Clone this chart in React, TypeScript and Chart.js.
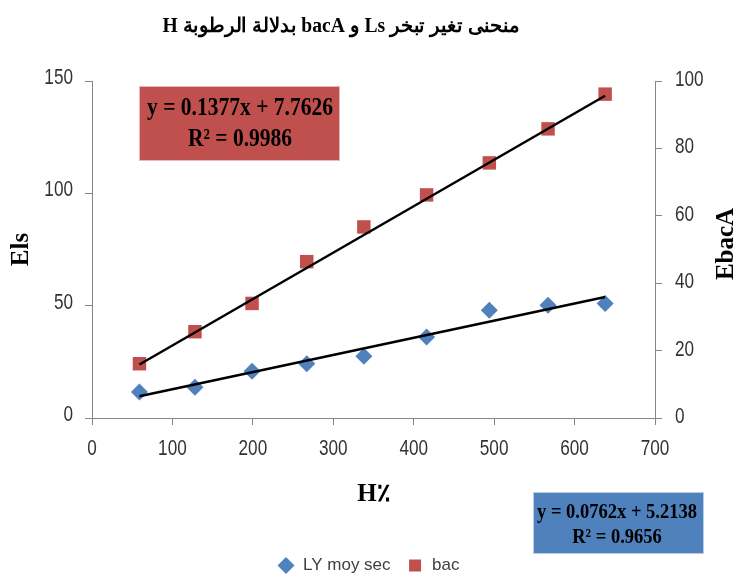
import React, { useEffect, useRef } from 'react';
import { Chart, registerables } from 'chart.js';

Chart.register(...registerables);

// ---- data ----
const humidity = [59, 128, 199, 267, 338, 416, 494, 567, 638];
const lyMoySec = [11.6, 13.7, 20.8, 24.1, 27.5, 36.0, 48.0, 50.2, 51.0];
const bacValues = [16.1, 25.6, 34.0, 46.4, 56.7, 66.2, 75.7, 85.8, 96.1];

const lyTrend = { slope: 0.0762, intercept: 5.2138, r2: '0.9656' };
const bacTrend = { slope: 0.1377, intercept: 7.7626, r2: '0.9986' };

const xRange = { min: 0, max: 700, step: 100 };
const yLeftRange = { min: 0, max: 150, step: 50 };
const yRightRange = { min: 0, max: 100, step: 20 };

const seriesNames = ['LY moy sec', 'bac'];
const chartTitle = 'منحنى تغير تبخر Ls و bacA بدلالة الرطوبة H';
const xTitle = 'H٪';
const yLeftTitle = 'Els';
const yRightTitle = 'EbacA';

const BLUE = '#4F81BD';
const RED = '#C0504D';
const AXIS = '#868686';
const TICK_TXT = '#333333';
const SANS = "'Liberation Sans', Arial, sans-serif";
const SERIF = "'Liberation Serif', 'DejaVu Serif', serif";

const eq = (t: { slope: number; intercept: number }) => `y = ${t.slope}x + ${t.intercept}`;
const trendPts = (t: { slope: number; intercept: number }) => {
  const xs = [Math.min(...humidity), Math.max(...humidity)];
  return xs.map((x) => ({ x, y: t.slope * x + t.intercept }));
};

function drawScaled(
  ctx: CanvasRenderingContext2D,
  text: string,
  x: number,
  y: number,
  font: string,
  scale: number,
  align: CanvasTextAlign = 'center',
  dir: CanvasDirection = 'ltr'
) {
  ctx.save();
  ctx.font = font;
  ctx.direction = dir;
  ctx.textAlign = align;
  ctx.textBaseline = 'middle';
  ctx.translate(x, y);
  ctx.scale(scale, 1);
  ctx.fillText(text, 0, 0);
  ctx.restore();
}
function scaleFor(ctx: CanvasRenderingContext2D, text: string, font: string, target: number) {
  ctx.save();
  ctx.font = font;
  const w = ctx.measureText(text).width;
  ctx.restore();
  return w > 0 ? target / w : 1;
}

// tick labels in a tall, narrow face (drawn from the chart's own scales)
const tickLabelPlugin = {
  id: 'tickLabels',
  afterDraw(chart: any) {
    const ctx: CanvasRenderingContext2D = chart.ctx;
    const font = `22px ${SANS}`;
    const k = 0.78;
    ctx.save();
    ctx.fillStyle = TICK_TXT;
    const sx = chart.scales.x;
    sx.ticks.forEach((t: any) => {
      drawScaled(ctx, String(t.value), sx.getPixelForValue(t.value), 449, font, k, 'center');
    });
    const sy = chart.scales.y;
    sy.ticks.forEach((t: any) => {
      drawScaled(ctx, String(t.value), sy.left + sy.width - 19, sy.getPixelForValue(t.value) - 3, font, k, 'right');
    });
    const sr = chart.scales.y1;
    sr.ticks.forEach((t: any) => {
      drawScaled(ctx, String(t.value), sr.left + 20, sr.getPixelForValue(t.value) - 1, font, k, 'left');
    });
    ctx.restore();
  },
};

const overlayPlugin = {
  id: 'overlay',
  afterDraw(chart: any) {
    const ctx: CanvasRenderingContext2D = chart.ctx;
    ctx.save();
    ctx.fillStyle = '#000';
    // title
    const tFont = `bold 20px ${SERIF}`;
    drawScaled(ctx, chartTitle, 341, 27, tFont, scaleFor(ctx, chartTitle, tFont, 357), 'center', 'rtl');

    // right axis title (reads bottom to top)
    ctx.save();
    ctx.translate(727, 244);
    ctx.rotate(-Math.PI / 2);
    ctx.font = `bold 25px ${SERIF}`;
    ctx.textAlign = 'center';
    ctx.textBaseline = 'middle';
    ctx.fillStyle = '#000';
    ctx.fillText(yRightTitle, 0, 0);
    ctx.restore();

    // red equation box
    ctx.fillStyle = RED;
    ctx.fillRect(139, 86, 201, 75);
    ctx.strokeStyle = '#E6B9B8';
    ctx.lineWidth = 1;
    ctx.strokeRect(139.5, 86.5, 200, 74);
    ctx.fillStyle = '#000';
    const rFont = `bold 25px ${SERIF}`;
    const rl1 = eq(bacTrend);
    const rs = scaleFor(ctx, rl1, rFont, 186);
    drawScaled(ctx, rl1, 240, 109, rFont, rs);
    drawScaled(ctx, `R² = ${bacTrend.r2}`, 240, 140, rFont, rs);

    // blue equation box
    ctx.fillStyle = BLUE;
    ctx.fillRect(533, 492, 171, 62);
    ctx.strokeStyle = '#B9CDE5';
    ctx.strokeRect(533.5, 492.5, 170, 61);
    ctx.fillStyle = '#000';
    const bFont = `bold 22px ${SERIF}`;
    const bl1 = eq(lyTrend);
    const bs = scaleFor(ctx, bl1, bFont, 160);
    drawScaled(ctx, bl1, 617, 512, bFont, bs);
    drawScaled(ctx, `R² = ${lyTrend.r2}`, 617, 537, bFont, bs);
    ctx.restore();
  },
};

export default function App() {
  const ref = useRef<HTMLCanvasElement | null>(null);
  useEffect(() => {
    document.body.style.margin = '0';
    const canvas = ref.current;
    if (!canvas) return;
    const gridOpts = { display: true, drawOnChartArea: false, drawTicks: true, tickLength: 7, color: AXIS };
    const chart = new Chart(canvas, {
      type: 'scatter',
      data: {
        datasets: [
          {
            type: 'line',
            label: 'trend LY',
            data: trendPts(lyTrend),
            yAxisID: 'y',
            borderColor: '#000',
            borderWidth: 2.5,
            pointRadius: 0,
            fill: false,
            order: 0,
          },
          {
            type: 'line',
            label: 'trend bac',
            data: trendPts(bacTrend),
            yAxisID: 'y1',
            borderColor: '#000',
            borderWidth: 2.5,
            pointRadius: 0,
            fill: false,
            order: 0,
          },
          {
            label: seriesNames[0],
            data: humidity.map((x, i) => ({ x, y: lyMoySec[i] })),
            yAxisID: 'y',
            pointStyle: 'rectRot',
            pointRadius: 8.5,
            backgroundColor: BLUE,
            borderColor: BLUE,
            borderWidth: 0,
            order: 1,
          },
          {
            label: seriesNames[1],
            data: humidity.map((x, i) => ({ x, y: bacValues[i] })),
            yAxisID: 'y1',
            pointStyle: 'rect',
            pointRadius: 9.5,
            backgroundColor: RED,
            borderColor: RED,
            borderWidth: 0,
            order: 1,
          },
        ],
      } as any,
      options: {
        responsive: false,
        animation: false,
        devicePixelRatio: 1,
        layout: { padding: { top: 81, left: 0, right: 0, bottom: -7 } },
        plugins: {
          title: { display: false },
          tooltip: { enabled: false },
          legend: {
            display: true,
            position: 'bottom',
            labels: {
              usePointStyle: true,
              boxHeight: 12,
              padding: 16,
              color: '#404040',
              font: { family: SANS, size: 17 },
              filter: (item: any) => !String(item.text).startsWith('trend'),
            },
          },
        },
        scales: {
          x: {
            type: 'linear',
            position: 'bottom',
            min: xRange.min,
            max: xRange.max,
            ticks: { stepSize: xRange.step, display: false },
            grid: gridOpts,
            border: { display: true, color: AXIS, width: 1 },
            title: { display: true, text: xTitle, color: '#000', font: { family: SERIF, size: 25, weight: 'bold' }, padding: { top: 0, bottom: 31 } },
            afterFit: (s: any) => { s.height = 123; },
          },
          y: {
            type: 'linear',
            position: 'left',
            min: yLeftRange.min,
            max: yLeftRange.max,
            ticks: { stepSize: yLeftRange.step, display: false },
            grid: gridOpts,
            border: { display: true, color: AXIS, width: 1 },
            title: { display: true, text: yLeftTitle, color: '#000', font: { family: SERIF, size: 25, weight: 'bold' }, padding: { top: 7, bottom: 0 } },
            afterFit: (s: any) => { s.width = 92; },
          },
          y1: {
            type: 'linear',
            position: 'right',
            min: yRightRange.min,
            max: yRightRange.max,
            ticks: { stepSize: yRightRange.step, display: false },
            grid: gridOpts,
            border: { display: true, color: AXIS, width: 1 },
            title: { display: false },
            afterFit: (s: any) => { s.width = 82; },
          },
        },
      } as any,
      plugins: [tickLabelPlugin, overlayPlugin],
    });
    return () => chart.destroy();
  }, []);
  return (
    <div style={{ position: 'fixed', left: 0, top: 0, width: 737, height: 577, background: '#fff' }}>
      <canvas ref={ref} width={737} height={577} style={{ display: 'block', width: 737, height: 577 }} />
    </div>
  );
}
